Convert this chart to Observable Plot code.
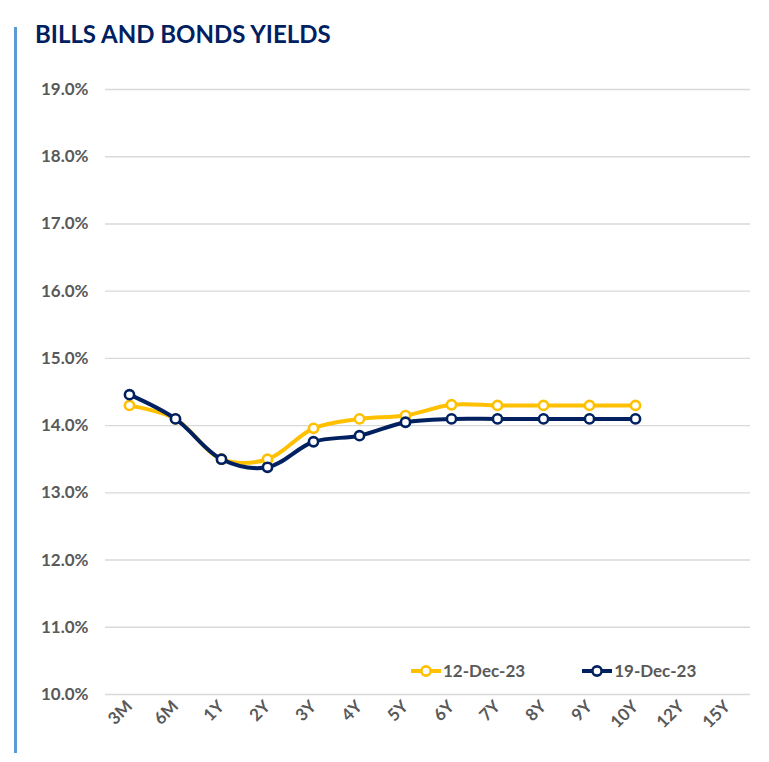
<!DOCTYPE html>
<html>
<head>
<meta charset="utf-8">
<script src="https://cdn.jsdelivr.net/npm/d3@7"></script>
<script src="https://cdn.jsdelivr.net/npm/@observablehq/plot@0.6"></script>
<style>
  html, body { margin: 0; padding: 0; background: #fff; }
  body { width: 769px; height: 762px; position: relative; overflow: hidden; font-family: Lato, "Open Sans", sans-serif; }
  #bar { position: absolute; left: 14px; top: 27px; width: 3px; height: 726px; background: #5B9BD5; }
  #title { position: absolute; left: 35px; top: 19px; font-size: 24px; font-weight: 700; color: #002060; }
  #chart { position: absolute; left: 0; top: 60px; }
  #legend { position: absolute; top: 660px; left: 410px; display: flex; font-size: 17px; font-weight: 700; color: #595959; }
  .item { display: flex; align-items: center; }
  .item svg { margin-right: 1px; }
</style>
</head>
<body>
<div id="bar"></div>
<div id="title">BILLS AND BONDS YIELDS</div>
<div id="chart"></div>
<div id="legend"></div>
<script>
const tenors = ["3M","6M","1Y","2Y","3Y","4Y","5Y","6Y","7Y","8Y","9Y","10Y","12Y","15Y"];
const seriesNames = ["12-Dec-23", "19-Dec-23"];
const seriesColors = ["#FFC000", "#002060"];
const dec12 = [14.30, 14.10, 13.50, 13.50, 13.96, 14.10, 14.15, 14.31, 14.30, 14.30, 14.30, 14.30, null, null];
const dec19 = [14.46, 14.10, 13.50, 13.38, 13.76, 13.85, 14.05, 14.10, 14.10, 14.10, 14.10, 14.10, null, null];
const yTicks = [10, 11, 12, 13, 14, 15, 16, 17, 18, 19];

const rows = [];
[dec12, dec19].forEach((vals, s) => {
  vals.forEach((v, i) => { if (v != null) rows.push({series: seriesNames[s], tenor: tenors[i], value: v}); });
});

const marks = [
  Plot.ruleY(yTicks, {stroke: "#d9d9d9", strokeWidth: 1.4})
];
seriesNames.forEach((name, s) => {
  const d = rows.filter(r => r.series === name);
  marks.push(Plot.line(d, {x: "tenor", y: "value", stroke: seriesColors[s], strokeWidth: 4, curve: "catmull-rom"}));
  marks.push(Plot.dot(d, {x: "tenor", y: "value", r: 4.6, fill: "white", stroke: seriesColors[s], strokeWidth: 2.6}));
});

const chart = Plot.plot({
  width: 769,
  height: 700,
  marginTop: 29,
  marginBottom: 66,
  marginLeft: 105,
  marginRight: 19,
  style: {fontFamily: "Lato, sans-serif", fontSize: "17px", fontWeight: "700", color: "#595959", background: "transparent"},
  x: {type: "point", domain: tenors, padding: 0.5, label: null},
  y: {domain: [10, 19], ticks: yTicks, label: null},
  marks: [
    ...marks,
    Plot.axisY({ticks: yTicks, tickSize: 0, tickPadding: 17, tickFormat: d => d.toFixed(1) + "%", fontSize: 17, fill: "#595959"}),
    Plot.axisX({tickSize: 0, tickPadding: 9, tickRotate: -45, fontSize: 17, fill: "#595959"})
  ]
});
document.getElementById("chart").appendChild(chart);

const legend = document.getElementById("legend");
seriesNames.forEach((name, s) => {
  const item = document.createElement("div");
  item.className = "item";
  item.style.marginRight = s === 0 ? "56px" : "0";
  item.innerHTML = `<svg width="32" height="14"><line x1="1" y1="7" x2="31" y2="7" stroke="${seriesColors[s]}" stroke-width="4"/><circle cx="16" cy="7" r="4.6" fill="white" stroke="${seriesColors[s]}" stroke-width="2.6"/></svg><span>${name}</span>`;
  legend.appendChild(item);
});
</script>
</body>
</html>
